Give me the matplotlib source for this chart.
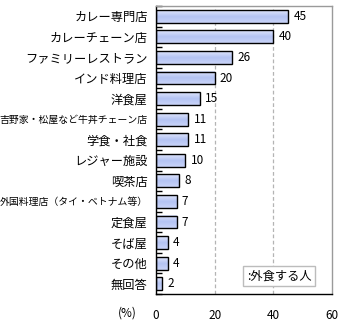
import numpy as np
import matplotlib
matplotlib.use("Agg")
import matplotlib.pyplot as plt
from matplotlib.colors import LinearSegmentedColormap

plt.rcParams['font.family'] = ['Noto Sans CJK JP', 'DejaVu Sans']

categories = ["カレー専門店", "カレーチェーン店", "ファミリーレストラン", "インド料理店", "洋食屋",
              "吉野家・松屋など牛丼チェーン店", "学食・社食", "レジャー施設", "喫茶店",
              "外国料理店（タイ・ベトナム等）", "定食屋", "そば屋", "その他", "無回答"]
values = [45, 40, 26, 20, 15, 11, 11, 10, 8, 7, 7, 4, 4, 2]
xticks = [0, 20, 40, 60]
legend_label = ":外食する人"

fig = plt.figure(figsize=(3.4, 3.25), dpi=100)
ax = fig.add_axes([156 / 340, 31 / 325, 176 / 340, 288 / 325])

n = len(categories)
ypos = np.arange(n)
bar_h = 0.63

# vertical gradient fill for each bar
grad = LinearSegmentedColormap.from_list("barfill", ["#dfe6fc", "#b4c3f3", "#c9d4f8"])
g = np.linspace(0, 1, 64).reshape(-1, 1)
for y, v in zip(ypos, values):
    ax.imshow(g, cmap=grad, aspect="auto", extent=(0, v, y + bar_h / 2, y - bar_h / 2),
              origin="upper", zorder=2, interpolation="bilinear")
ax.barh(ypos, values, height=bar_h, facecolor="none", edgecolor="black", linewidth=1.0, zorder=3)

for y, v in zip(ypos, values):
    ax.annotate(str(v), xy=(v, y), xytext=(3.8, 0), textcoords="offset points",
                va="center", ha="left", fontsize=8.5, color="black")

ax.set_xlim(0, 60)
ax.set_ylim(n - 0.5, -0.5)
ax.set_xticks(xticks)
ax.set_xticklabels([str(t) for t in xticks], fontsize=8.5)
ax.tick_params(axis="x", length=0, pad=11)

ax.set_yticks(ypos)
ax.set_yticklabels(categories, fontsize=8.8)
ax.tick_params(axis="y", which="major", length=0, pad=6)
# long labels are set smaller so they fit in the left margin
for lab in ax.get_yticklabels():
    if len(lab.get_text()) > 12:
        lab.set_fontsize(7.1)
ax.set_yticks(np.arange(-0.5, n, 1.0), minor=True)
ax.tick_params(axis="y", which="minor", length=4, width=1, direction="in", color="black")

for xv in [20, 40]:
    ax.axvline(xv, color="#b4b4b4", linestyle=(0, (3, 2)), linewidth=0.9, zorder=1)

for side in ["top", "right"]:
    ax.spines[side].set_color("#9a9a9a")
    ax.spines[side].set_linewidth(1.0)
for side in ["left", "bottom"]:
    ax.spines[side].set_color("black")
    ax.spines[side].set_linewidth(1.0)

ax.text(0.70, 0.0625, legend_label, transform=ax.transAxes, ha="center", va="center",
        fontsize=8.8, zorder=5,
        bbox=dict(boxstyle="square,pad=0.3", facecolor="white", edgecolor="#bcbcbc", linewidth=1.0))

fig.text(127 / 340, 1 - 313 / 325, "(%)", ha="center", va="center", fontsize=8.5)

fig.savefig("out.png", dpi=100)
